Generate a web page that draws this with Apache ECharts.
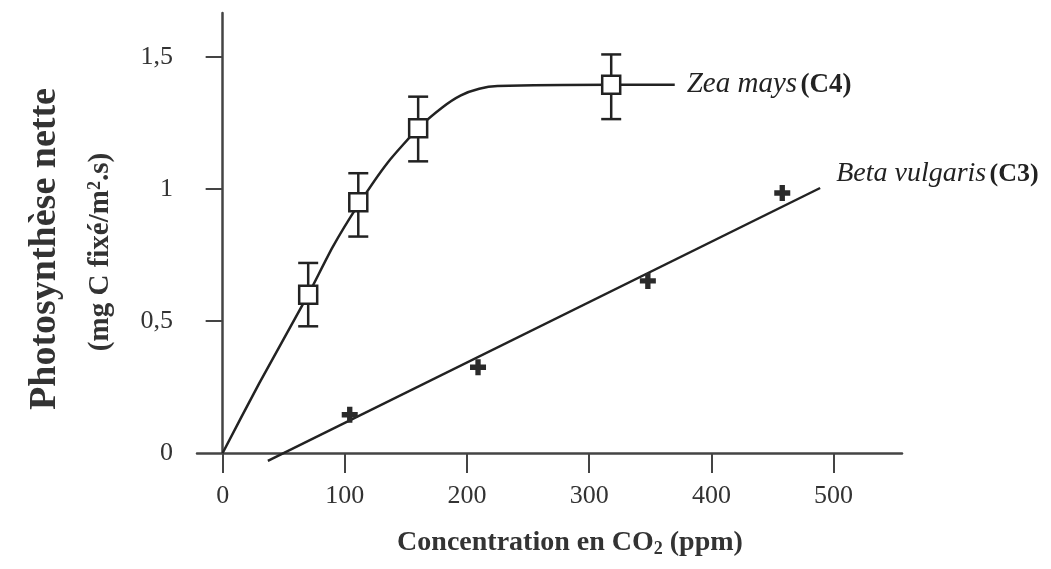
<!DOCTYPE html>
<html>
<head>
<meta charset="utf-8">
<style>
  html, body { margin: 0; padding: 0; background: #fff; }
  #main { width: 1051px; height: 569px; }
</style>
<script src="https://cdn.jsdelivr.net/npm/echarts@6/dist/echarts.min.js"></script>
</head>
<body>
<div id="main"></div>
<script>
// Zea mays (C4) : mesures avec barres d'erreur
const zeaX = [70, 111, 160, 318];
const zeaY = [0.60, 0.95, 1.23, 1.395];
const zeaLow = [0.48, 0.82, 1.105, 1.265];
const zeaHigh = [0.72, 1.06, 1.35, 1.51];
// courbe tracée à la main
const zeaCurveX = [0, 30, 70, 90, 111, 135, 160, 180, 195, 210, 225, 318, 370];
const zeaCurveY = [0, 0.265, 0.60, 0.78, 0.94, 1.10, 1.23, 1.31, 1.355, 1.38, 1.39, 1.395, 1.395];

// Beta vulgaris (C3)
const betaX = [104, 209, 348, 458];
const betaY = [0.145, 0.325, 0.652, 0.985];
const betaFitX = [37, 489];
const betaFitY = [-0.03, 1.004];

const xTicks = [0, 100, 200, 300, 400, 500];
const yTicks = [0, 0.5, 1, 1.5];
const yTickMarks = [0.5, 1, 1.5];

const serif = '"Liberation Serif", "DejaVu Serif", serif';
const ink = '#222';

const zip = (a, b) => a.map((v, i) => [v, b[i]]);

const chart = echarts.init(document.getElementById('main'));

const option = {
  animation: false,
  backgroundColor: '#fff',
  grid: { left: 197, right: 149, top: 13, bottom: 116 },
  xAxis: {
    type: 'value',
    min: -21,
    max: 556,
    splitLine: { show: false },
    axisLine: { lineStyle: { color: '#444', width: 2.5 } },
    axisTick: { customValues: xTicks, length: 20, lineStyle: { color: '#444', width: 2 } },
    axisLabel: {
      customValues: xTicks,
      margin: 30,
      color: '#333',
      fontFamily: serif,
      fontSize: 26
    }
  },
  yAxis: {
    type: 'value',
    min: 0,
    max: 1.667,
    splitLine: { show: false },
    axisLine: { show: true, lineStyle: { color: '#444', width: 2.5 } },
    axisTick: { show: true, customValues: yTickMarks, length: 17, lineStyle: { color: '#444', width: 2 } },
    axisLabel: {
      customValues: yTicks,
      margin: 24,
      color: '#333',
      fontFamily: serif,
      fontSize: 26,
      formatter: v => String(v).replace('.', ',')
    }
  },
  graphic: [
    {
      type: 'text',
      x: 45, y: 249,
      rotation: Math.PI / 2,
      style: {
        text: 'Photosynthèse nette',
        font: 'bold 38px ' + serif,
        fill: '#333',
        align: 'center',
        verticalAlign: 'middle'
      }
    },
    {
      type: 'text',
      x: 101, y: 252,
      rotation: Math.PI / 2,
      style: {
        text: '{a|(mg C fixé/m}{s|2}{a|.s)}',
        align: 'center',
        verticalAlign: 'middle',
        rich: {
          a: { font: 'bold 29px ' + serif, fill: '#333' },
          s: { font: 'bold 18px ' + serif, fill: '#333', verticalAlign: 'top', padding: [0, 0, 12, 0] }
        }
      }
    },
    {
      type: 'text',
      x: 570, y: 543,
      style: {
        text: '{a|Concentration en CO}{s|2}{a| (ppm)}',
        align: 'center',
        verticalAlign: 'middle',
        rich: {
          a: { font: 'bold 28px ' + serif, fill: '#333' },
          s: { font: 'bold 18px ' + serif, fill: '#333', padding: [12, 0, 0, 0] }
        }
      }
    }
  ],
  series: [
    {
      name: 'Zea mays',
      type: 'line',
      data: zip(zeaCurveX, zeaCurveY),
      smooth: 0.2,
      showSymbol: false,
      clip: false,
      lineStyle: { color: ink, width: 2.5 },
      endLabel: {
        show: true,
        distance: 12,
        formatter: '{i|Zea mays} {b|(C4)}',
        rich: {
          i: { fontFamily: serif, fontStyle: 'italic', fontSize: 29, color: ink },
          b: { fontFamily: serif, fontWeight: 'bold', fontSize: 27, color: ink }
        }
      },
      z: 2
    },
    {
      name: 'Zea mays erreur',
      type: 'custom',
      data: zeaX.map((x, i) => [x, zeaLow[i], zeaHigh[i]]),
      renderItem: (params, api) => {
        const x = api.value(0);
        const lo = api.coord([x, api.value(1)]);
        const hi = api.coord([x, api.value(2)]);
        const w = 10;
        const st = { stroke: ink, lineWidth: 2.5 };
        return {
          type: 'group',
          children: [
            { type: 'line', shape: { x1: lo[0], y1: lo[1], x2: hi[0], y2: hi[1] }, style: st },
            { type: 'line', shape: { x1: lo[0] - w, y1: lo[1], x2: lo[0] + w, y2: lo[1] }, style: st },
            { type: 'line', shape: { x1: hi[0] - w, y1: hi[1], x2: hi[0] + w, y2: hi[1] }, style: st }
          ]
        };
      },
      z: 3
    },
    {
      name: 'Zea mays mesures',
      type: 'scatter',
      data: zip(zeaX, zeaY),
      symbol: 'rect',
      symbolSize: 18,
      itemStyle: { color: '#fff', borderColor: ink, borderWidth: 2.5, opacity: 1 },
      z: 4
    },
    {
      name: 'Beta vulgaris',
      type: 'line',
      data: zip(betaFitX, betaFitY),
      showSymbol: false,
      clip: false,
      lineStyle: { color: ink, width: 2.5 },
      endLabel: {
        show: true,
        offset: [8, -14],
        formatter: '{i|Beta vulgaris} {b|(C3)}',
        rich: {
          i: { fontFamily: serif, fontStyle: 'italic', fontSize: 28, color: ink },
          b: { fontFamily: serif, fontWeight: 'bold', fontSize: 26, color: ink }
        }
      },
      z: 2
    },
    {
      name: 'Beta vulgaris mesures',
      type: 'scatter',
      data: zip(betaX, betaY),
      symbol: 'path://M4,0 H8 V4 H12 V8 H8 V12 H4 V8 H0 V4 H4 Z',
      symbolSize: 16,
      itemStyle: { color: '#2a2a2a', opacity: 1 },
      z: 4
    }
  ]
};

chart.setOption(option);
</script>
</body>
</html>
